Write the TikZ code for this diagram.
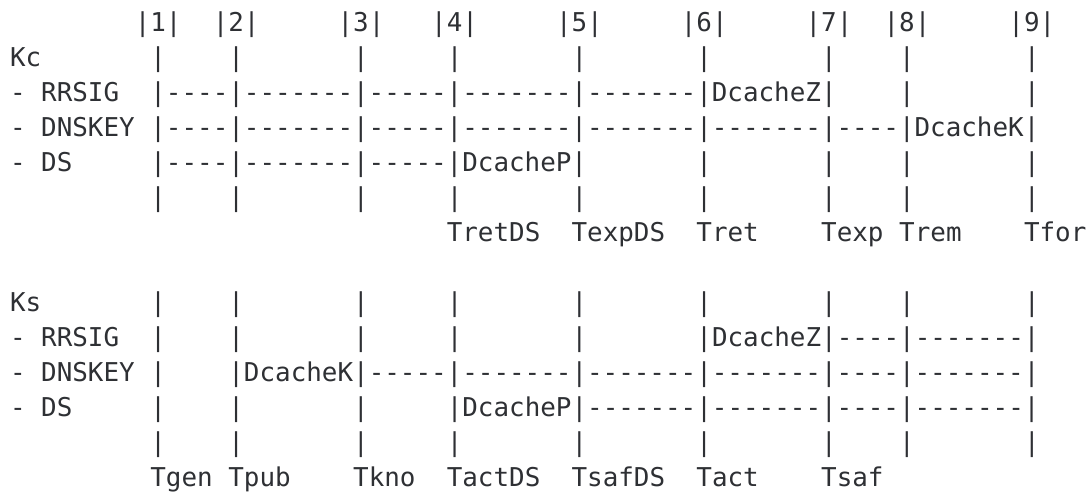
\documentclass[tikz,border=0pt]{standalone}
\usepackage{fontspec}
\setmonofont{DejaVu Sans Mono}
\definecolor{ink}{HTML}{2E3034}
\begin{document}
\begin{tikzpicture}[x=1pt,y=1pt,
  txt/.style={inner sep=0pt,outer sep=0pt,anchor=base west,text=ink,
    font=\ttfamily\fontsize{19.43pt}{26pt}\selectfont}]
% character cell: 11.7pt wide, lines 26.25pt apart
\def\cw{11.7}
\def\lh{26.25}
\def\xo{7.5}
\def\yo{23.8}
\useasboundingbox (0,0) rectangle (816,-373.5);
% header with the numbered instants
\foreach \c/\t in {8/|1|,13/|2|,21/|3|,27/|4|,35/|5|,43/|6|,51/|7|,56/|8|,64/|9|}
  \node[txt] (h-\c) at ({\xo+\c*\cw},{-\yo}) {\t};
% plain vertical bars on every instant column
\foreach \r in {1,5,8,12}
  \foreach \c in {9,14,22,28,36,44,52,57,65}
    \node[txt] (n\r-\c) at ({\xo+\c*\cw},{-\yo-\r*\lh}) {|};
% record rows and time labels
\foreach \r/\c/\t in {
  1/0/Kc,
  2/0/-, 2/2/RRSIG, 2/9/|----|-------|-----|-------|-------|DcacheZ|, 2/57/|, 2/65/|,
  3/0/-, 3/2/DNSKEY, 3/9/|----|-------|-----|-------|-------|-------|----|DcacheK|,
  4/0/-, 4/2/DS, 4/9/|----|-------|-----|DcacheP|, 4/44/|, 4/52/|, 4/57/|, 4/65/|,
  6/28/TretDS, 6/36/TexpDS, 6/44/Tret, 6/52/Texp, 6/57/Trem, 6/65/Tfor,
  8/0/Ks,
  9/0/-, 9/2/RRSIG, 9/9/|, 9/14/|, 9/22/|, 9/28/|, 9/36/|, 9/44/|DcacheZ|----|-------|,
  10/0/-, 10/2/DNSKEY, 10/9/|, 10/14/|DcacheK|-----|-------|-------|-------|----|-------|,
  11/0/-, 11/2/DS, 11/9/|, 11/14/|, 11/22/|, 11/28/|DcacheP|-------|-------|----|-------|,
  13/9/Tgen, 13/14/Tpub, 13/22/Tkno, 13/28/TactDS, 13/36/TsafDS, 13/44/Tact, 13/52/Tsaf}
  \node[txt] (t\r-\c) at ({\xo+\c*\cw},{-\yo-\r*\lh}) {\t};
\end{tikzpicture}
\end{document}
